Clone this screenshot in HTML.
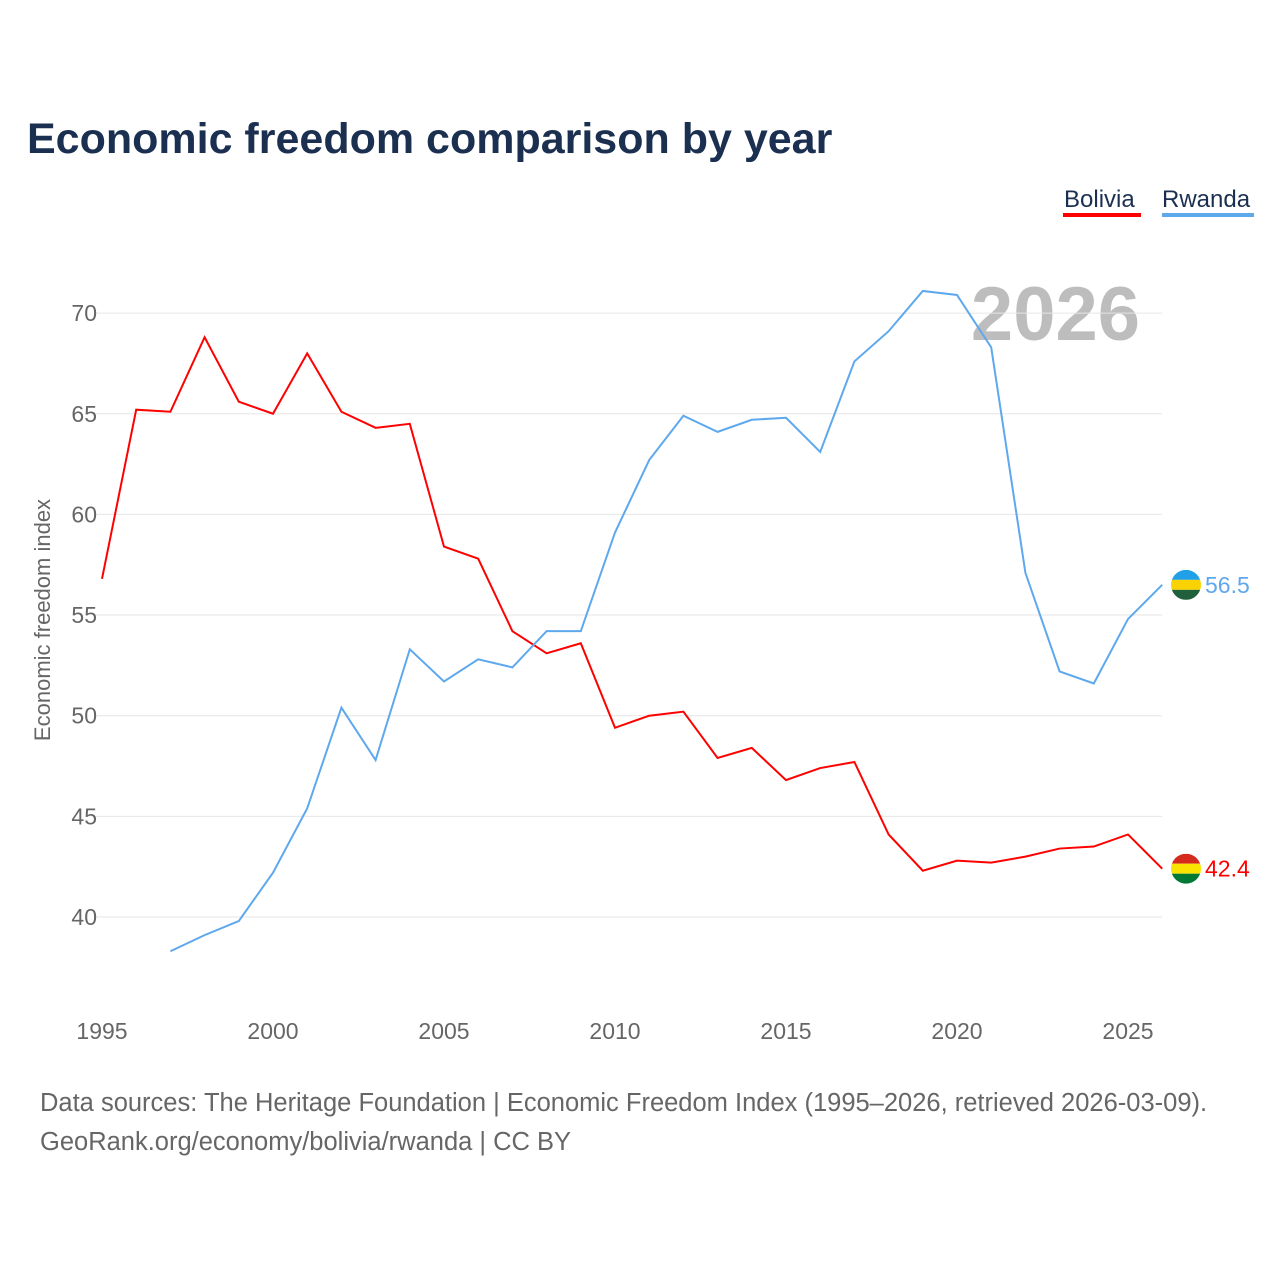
<!DOCTYPE html>
<html><head><meta charset="utf-8"><style>
body{margin:0;background:#fff;width:1280px;height:1280px;overflow:hidden;font-family:"Liberation Sans",sans-serif}
</style></head><body>
<svg width="1280" height="1280" id="svg" font-family="Liberation Sans, sans-serif">
<text x="27" y="153" font-size="43" font-weight="bold" fill="#1b3050">Economic freedom comparison by year</text>
<g><text x="1064" y="207" font-size="24" fill="#1b3050">Bolivia</text><rect x="1063" y="213" width="78" height="4" fill="#ff0000"/></g>
<g><text x="1162" y="207" font-size="24" fill="#1b3050">Rwanda</text><rect x="1162" y="213" width="92" height="4" fill="#5ea8ee"/></g>
<text x="1140" y="340" font-size="76" font-weight="bold" fill="#bdbdbd" text-anchor="end">2026</text>
<text transform="translate(50,620) rotate(-90)" font-size="22" fill="#666" text-anchor="middle">Economic freedom index</text>
<g id="grid"></g><g id="marks"></g>
<text x="40" y="1111" font-size="25.5" fill="#666">Data sources: The Heritage Foundation | Economic Freedom Index (1995–2026, retrieved 2026-03-09).</text>
<text x="40" y="1150" font-size="25.5" fill="#666">GeoRank.org/economy/bolivia/rwanda | CC BY</text>
</svg>
<script>
const years=[];for(let y=1995;y<=2026;y++)years.push(y);
const bolivia=[56.8,65.2,65.1,68.8,65.6,65.0,68.0,65.1,64.3,64.5,58.4,57.8,54.2,53.1,53.6,49.4,50.0,50.2,47.9,48.4,46.8,47.4,47.7,44.1,42.3,42.8,42.7,43.0,43.4,43.5,44.1,42.4];
const rwanda=[null,null,38.3,39.1,39.8,42.2,45.4,50.4,47.8,53.3,51.7,52.8,52.4,54.2,54.2,59.1,62.7,64.9,64.1,64.7,64.8,63.1,67.6,69.1,71.1,70.9,68.3,57.1,52.2,51.6,54.8,56.5];
const yTicks=[40,45,50,55,60,65,70];
const xTicks=[1995,2000,2005,2010,2015,2020,2025];
const X=y=>102+(y-1995)*34.2, Y=v=>917-(v-40)*20.13;
const NS='http://www.w3.org/2000/svg';
function mk(t,a,p){const e=document.createElementNS(NS,t);for(const k in a)e.setAttribute(k,a[k]);p.appendChild(e);return e;}
const g=document.getElementById('grid'),m=document.getElementById('marks');
yTicks.forEach(v=>{const l=mk('line',{x1:95,x2:1162,y1:Y(v),y2:Y(v),stroke:'#e6e6e6'},g);


const t=mk('text',{x:97,y:Y(v)+8,'font-size':23,fill:'#666','text-anchor':'end'},g);t.textContent=v;

});
xTicks.forEach(v=>{const t=mk('text',{x:X(v),y:1039,'font-size':23,fill:'#666','text-anchor':'middle'},g);t.textContent=v;

});
function line(arr,col,name){let d='';arr.forEach((v,i)=>{if(v==null)return;d+=(d?'L':'M')+X(years[i])+','+Y(v);});
const p=mk('path',{d:d,fill:'none',stroke:col,'stroke-width':2},m);

}
line(bolivia,'#ff0000','line-bolivia');line(rwanda,'#5ea8ee','line-rwanda');
function endLabel(arr,col,cols,name){const v=arr[arr.length-1],cx=1186,cy=Y(v);
const gg=mk('g',{},m);


const id='c'+name;const cp=mk('clipPath',{id:id},gg);mk('circle',{cx:cx,cy:cy,r:15},cp);
cols.forEach((c,i)=>mk('rect',{x:cx-15,y:cy-15+i*10,width:30,height:10,fill:c,'clip-path':'url(#'+id+')'},gg));
const t=mk('text',{x:1205,y:cy+8,'font-size':23,fill:col},gg);t.textContent=v.toFixed(1);}
endLabel(bolivia,'#ff0000',['#d52b1e','#f9e300','#007934'],'end-label-bolivia');
endLabel(rwanda,'#5ea8ee',['#20a0e8','#fad201','#20603d'],'end-label-rwanda');
</script>
</body></html>
